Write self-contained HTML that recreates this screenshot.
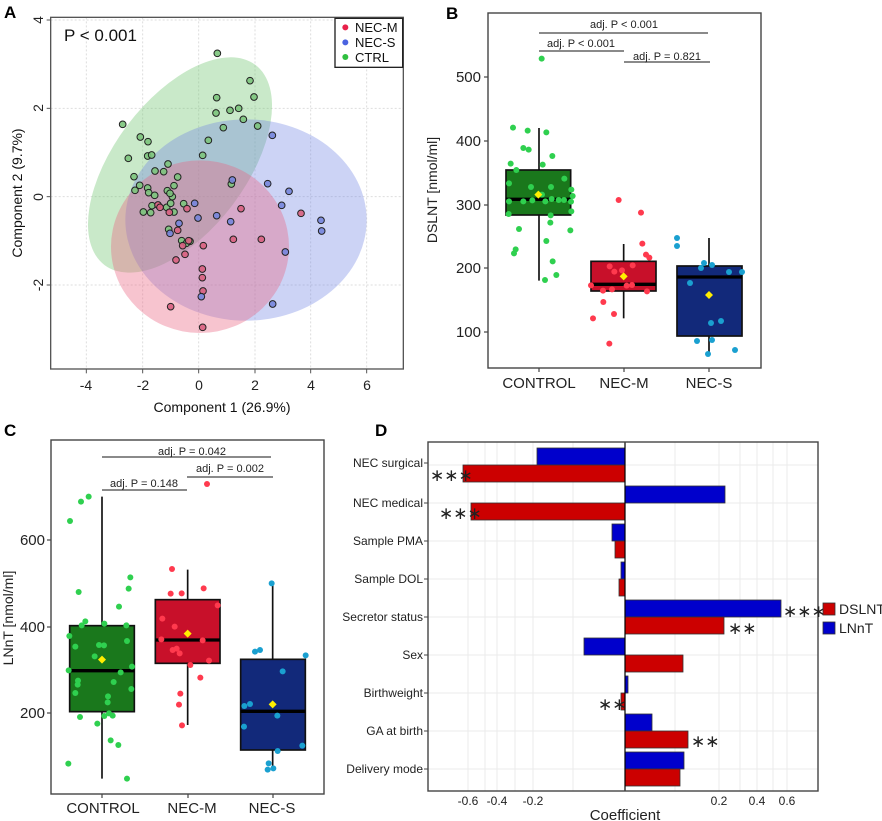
<!DOCTYPE html>
<html><head><meta charset="utf-8"><style>
body{margin:0;background:#fff}
svg{display:block;font-family:"Liberation Sans",Arial,sans-serif}
</style></head><body>
<svg width="882" height="821" viewBox="0 0 882 821" xmlns="http://www.w3.org/2000/svg">
<!-- Panel labels -->
<g font-weight="bold" font-size="17" fill="#000">
<text x="4" y="18">A</text><text x="446" y="19">B</text><text x="4" y="436">C</text><text x="375" y="436">D</text>
</g>

<!-- ================= PANEL A ================= -->
<g transform="scale(0.33333)">
<rect x="152" y="52" width="1058" height="1055" fill="#fff"/>
<g stroke="#ddd" stroke-width="3" stroke-dasharray="6,6">
<line x1="259" y1="52" x2="259" y2="1107"/><line x1="428" y1="52" x2="428" y2="1107"/><line x1="596" y1="52" x2="596" y2="1107"/><line x1="765" y1="52" x2="765" y2="1107"/><line x1="932" y1="52" x2="932" y2="1107"/><line x1="1100" y1="52" x2="1100" y2="1107"/>
<line x1="152" y1="60" x2="1210" y2="60"/><line x1="152" y1="325" x2="1210" y2="325"/><line x1="152" y1="590" x2="1210" y2="590"/><line x1="152" y1="855" x2="1210" y2="855"/>
</g>
<ellipse cx="540" cy="495" rx="376" ry="198" transform="rotate(-53 540 495)" fill="rgb(120,200,120)" fill-opacity="0.4"/>
<ellipse cx="738" cy="660" rx="362" ry="302" fill="rgb(110,130,225)" fill-opacity="0.35"/>
<ellipse cx="600" cy="740" rx="267" ry="259" fill="rgb(235,100,130)" fill-opacity="0.38"/>
<g stroke="#222" stroke-width="3" fill="#7cc47c" fill-opacity="0.9">
<circle cx="652" cy="160" r="10"/><circle cx="750" cy="242" r="10"/><circle cx="762" cy="291" r="10"/><circle cx="650" cy="293" r="10"/><circle cx="648" cy="339" r="10"/><circle cx="690" cy="331" r="10"/><circle cx="716" cy="325" r="10"/><circle cx="730" cy="358" r="10"/><circle cx="773" cy="378" r="10"/><circle cx="670" cy="383" r="10"/><circle cx="625" cy="421" r="10"/><circle cx="608" cy="466" r="10"/><circle cx="368" cy="373" r="10"/><circle cx="421" cy="411" r="10"/><circle cx="444" cy="425" r="10"/><circle cx="385" cy="475" r="10"/><circle cx="443" cy="468" r="10"/><circle cx="455" cy="465" r="10"/><circle cx="504" cy="492" r="10"/><circle cx="491" cy="515" r="10"/><circle cx="465" cy="513" r="10"/><circle cx="533" cy="531" r="10"/><circle cx="402" cy="530" r="10"/><circle cx="419" cy="556" r="10"/><circle cx="443" cy="564" r="10"/><circle cx="405" cy="571" r="10"/><circle cx="446" cy="578" r="10"/><circle cx="464" cy="586" r="10"/><circle cx="522" cy="557" r="10"/><circle cx="502" cy="572" r="10"/><circle cx="517" cy="590" r="10"/><circle cx="510" cy="580" r="10"/><circle cx="694" cy="552" r="10"/><circle cx="430" cy="636" r="10"/><circle cx="452" cy="638" r="10"/><circle cx="456" cy="617" r="10"/><circle cx="500" cy="622" r="10"/><circle cx="522" cy="636" r="10"/><circle cx="512" cy="610" r="10"/><circle cx="506" cy="688" r="10"/><circle cx="545" cy="722" r="10"/><circle cx="559" cy="730" r="10"/><circle cx="551" cy="611" r="10"/><circle cx="570" cy="724" r="10"/>
</g>
<g stroke="#222" stroke-width="3" fill="#d8607f" fill-opacity="0.9">
<circle cx="474" cy="615" r="10"/><circle cx="480" cy="622" r="10"/><circle cx="508" cy="637" r="10"/><circle cx="561" cy="626" r="10"/><circle cx="533" cy="691" r="10"/><circle cx="548" cy="737" r="10"/><circle cx="555" cy="763" r="10"/><circle cx="528" cy="780" r="10"/><circle cx="566" cy="722" r="10"/><circle cx="610" cy="737" r="10"/><circle cx="607" cy="807" r="10"/><circle cx="607" cy="833" r="10"/><circle cx="609" cy="873" r="10"/><circle cx="512" cy="920" r="10"/><circle cx="608" cy="982" r="10"/><circle cx="700" cy="718" r="10"/><circle cx="784" cy="718" r="10"/><circle cx="723" cy="626" r="10"/><circle cx="903" cy="640" r="10"/>
</g>
<g stroke="#222" stroke-width="3" fill="#7585dc" fill-opacity="0.9">
<circle cx="817" cy="406" r="10"/><circle cx="697" cy="540" r="10"/><circle cx="803" cy="551" r="10"/><circle cx="867" cy="574" r="10"/><circle cx="845" cy="616" r="10"/><circle cx="584" cy="610" r="10"/><circle cx="594" cy="654" r="10"/><circle cx="537" cy="670" r="10"/><circle cx="510" cy="700" r="10"/><circle cx="650" cy="647" r="10"/><circle cx="692" cy="665" r="10"/><circle cx="963" cy="661" r="10"/><circle cx="965" cy="693" r="10"/><circle cx="856" cy="756" r="10"/><circle cx="604" cy="890" r="10"/><circle cx="818" cy="912" r="10"/>
</g>
<rect x="152" y="52" width="1058" height="1055" fill="none" stroke="#555" stroke-width="4"/>
<g stroke="#555" stroke-width="3">
<line x1="259" y1="1107" x2="259" y2="1120"/><line x1="428" y1="1107" x2="428" y2="1120"/><line x1="596" y1="1107" x2="596" y2="1120"/><line x1="765" y1="1107" x2="765" y2="1120"/><line x1="932" y1="1107" x2="932" y2="1120"/><line x1="1100" y1="1107" x2="1100" y2="1120"/>
<line x1="140" y1="60" x2="152" y2="60"/><line x1="140" y1="325" x2="152" y2="325"/><line x1="140" y1="590" x2="152" y2="590"/><line x1="140" y1="855" x2="152" y2="855"/>
</g>
<rect x="1005" y="55" width="203" height="147" fill="#fff" stroke="#222" stroke-width="4"/>
<circle cx="1036" cy="82" r="9" fill="#e8214a"/><circle cx="1036" cy="127" r="9" fill="#4a63e0"/><circle cx="1036" cy="171" r="9" fill="#2fbf3f"/>
</g>
<g font-size="13" fill="#111">
<text x="355" y="32">NEC-M</text><text x="355" y="47">NEC-S</text><text x="355" y="62">CTRL</text>
</g>
<text x="64" y="41" font-size="17" fill="#111">P &lt; 0.001</text>
<g font-size="14" fill="#222" text-anchor="middle">
<text x="86" y="390">-4</text><text x="143" y="390">-2</text><text x="199" y="390">0</text><text x="255" y="390">2</text><text x="311" y="390">4</text><text x="367" y="390">6</text>
<text transform="translate(43,20) rotate(-90)">4</text>
<text transform="translate(43,108) rotate(-90)">2</text>
<text transform="translate(43,197) rotate(-90)">0</text>
<text transform="translate(43,285) rotate(-90)">-2</text>
</g>
<text x="222" y="412" font-size="14" text-anchor="middle" fill="#111">Component 1 (26.9%)</text>
<text transform="translate(22,193) rotate(-90)" font-size="14" text-anchor="middle" fill="#111">Component 2 (9.7%)</text>

<!-- ================= PANEL B ================= -->
<g transform="translate(420,0) scale(0.33333)">
<g stroke="#111" stroke-width="5">
<line x1="357" y1="384" x2="357" y2="842"/>
<line x1="611" y1="732" x2="611" y2="955"/>
</g>
<rect x="258" y="510" width="194" height="135" fill="#1a781c" stroke="#111" stroke-width="5"/>
<line x1="258" y1="598" x2="452" y2="598" stroke="#000" stroke-width="10"/>
<rect x="513" y="784" width="195" height="89" fill="#c8102a" stroke="#111" stroke-width="5"/>
<line x1="513" y1="853" x2="708" y2="853" stroke="#000" stroke-width="10"/>
<g fill="#2fd04f">
<circle cx="365" cy="176" r="9"/><circle cx="279" cy="383" r="9"/><circle cx="323" cy="392" r="9"/><circle cx="379" cy="397" r="9"/><circle cx="310" cy="444" r="9"/><circle cx="326" cy="449" r="9"/><circle cx="397" cy="468" r="9"/><circle cx="272" cy="491" r="9"/><circle cx="368" cy="494" r="9"/><circle cx="289" cy="510" r="9"/><circle cx="267" cy="550" r="9"/><circle cx="333" cy="561" r="9"/><circle cx="393" cy="561" r="9"/><circle cx="433" cy="536" r="9"/><circle cx="454" cy="569" r="9"/><circle cx="366" cy="584" r="9"/><circle cx="267" cy="604" r="9"/><circle cx="310" cy="604" r="9"/><circle cx="337" cy="601" r="9"/><circle cx="376" cy="604" r="9"/><circle cx="395" cy="597" r="9"/><circle cx="416" cy="600" r="9"/><circle cx="432" cy="600" r="9"/><circle cx="453" cy="605" r="9"/><circle cx="458" cy="588" r="9"/><circle cx="454" cy="634" r="9"/><circle cx="266" cy="642" r="9"/><circle cx="392" cy="646" r="9"/><circle cx="391" cy="668" r="9"/><circle cx="297" cy="687" r="9"/><circle cx="451" cy="691" r="9"/><circle cx="379" cy="723" r="9"/><circle cx="287" cy="748" r="9"/><circle cx="282" cy="760" r="9"/><circle cx="398" cy="784" r="9"/><circle cx="409" cy="825" r="9"/><circle cx="375" cy="840" r="9"/>
</g>
<g fill="#ff3a4e">
<circle cx="596" cy="600" r="9"/><circle cx="663" cy="638" r="9"/><circle cx="667" cy="731" r="9"/><circle cx="678" cy="764" r="9"/><circle cx="688" cy="773" r="9"/><circle cx="569" cy="799" r="9"/><circle cx="606" cy="811" r="9"/><circle cx="638" cy="796" r="9"/><circle cx="583" cy="815" r="9"/><circle cx="513" cy="856" r="9"/><circle cx="549" cy="872" r="9"/><circle cx="576" cy="868" r="9"/><circle cx="620" cy="857" r="9"/><circle cx="636" cy="855" r="9"/><circle cx="681" cy="874" r="9"/><circle cx="550" cy="906" r="9"/><circle cx="582" cy="942" r="9"/><circle cx="519" cy="955" r="9"/><circle cx="568" cy="1031" r="9"/>
</g>
<polygon points="355,572 367,584 355,596 343,584" fill="#ffee00"/>
<polygon points="611,817 623,829 611,841 599,829" fill="#ffee00"/>
</g>
<line x1="709" y1="238" x2="709" y2="354" stroke="#111" stroke-width="1.7"/>
<rect x="677" y="266" width="65" height="70" fill="#12297a" stroke="#111" stroke-width="1.7"/>
<line x1="677" y1="277" x2="742" y2="277" stroke="#000" stroke-width="3.3"/>
<g fill="#1aa0d0">
<circle cx="677" cy="238" r="3"/><circle cx="677" cy="246" r="3"/><circle cx="704" cy="263" r="3"/><circle cx="701" cy="268" r="3"/><circle cx="712" cy="265" r="3"/><circle cx="729" cy="272" r="3"/><circle cx="742" cy="272" r="3"/><circle cx="690" cy="283" r="3"/><circle cx="711" cy="323" r="3"/><circle cx="721" cy="321" r="3"/><circle cx="697" cy="341" r="3"/><circle cx="712" cy="340" r="3"/><circle cx="708" cy="354" r="3"/><circle cx="735" cy="350" r="3"/>
</g>
<polygon points="709,291 713,295 709,299 705,295" fill="#ffee00"/>
<rect x="488" y="13" width="273" height="355" fill="none" stroke="#444" stroke-width="1.4"/>
<g stroke="#444" stroke-width="1.2">
<line x1="484" y1="77" x2="488" y2="77"/><line x1="484" y1="141" x2="488" y2="141"/><line x1="484" y1="205" x2="488" y2="205"/><line x1="484" y1="268" x2="488" y2="268"/><line x1="484" y1="332" x2="488" y2="332"/>
<line x1="539" y1="368" x2="539" y2="372"/><line x1="624" y1="368" x2="624" y2="372"/><line x1="709" y1="368" x2="709" y2="372"/>
<line x1="539" y1="33" x2="708" y2="33"/><line x1="539" y1="51" x2="624" y2="51"/><line x1="624" y1="62" x2="710" y2="62"/>
</g>
<g font-size="11" fill="#222" text-anchor="middle">
<text x="624" y="28">adj. P &lt; 0.001</text><text x="581" y="47">adj. P &lt; 0.001</text><text x="667" y="60">adj. P = 0.821</text>
</g>
<g font-size="15" fill="#222" text-anchor="end">
<text x="481" y="82">500</text><text x="481" y="146">400</text><text x="481" y="210">300</text><text x="481" y="273">200</text><text x="481" y="337">100</text>
</g>
<g font-size="15" fill="#222" text-anchor="middle">
<text x="539" y="388">CONTROL</text><text x="624" y="388">NEC-M</text><text x="709" y="388">NEC-S</text>
</g>
<text transform="translate(437,190) rotate(-90)" font-size="14" text-anchor="middle" fill="#222">DSLNT [nmol/ml]</text>

<!-- ================= PANEL C ================= -->
<g transform="translate(0,400) scale(0.33333)">
<g stroke="#111" stroke-width="5">
<line x1="306" y1="290" x2="306" y2="1136"/>
<line x1="563" y1="509" x2="563" y2="975"/>
<line x1="818" y1="549" x2="818" y2="1100"/>
</g>
<rect x="209" y="677" width="194" height="258" fill="#1a781c" stroke="#111" stroke-width="5"/>
<line x1="209" y1="812" x2="403" y2="812" stroke="#000" stroke-width="10"/>
<rect x="466" y="599" width="194" height="191" fill="#c8102a" stroke="#111" stroke-width="5"/>
<line x1="466" y1="720" x2="660" y2="720" stroke="#000" stroke-width="10"/>
<rect x="722" y="778" width="194" height="272" fill="#12297a" stroke="#111" stroke-width="5"/>
<line x1="722" y1="934" x2="916" y2="934" stroke="#000" stroke-width="10"/>
<g fill="#2fd04f">
<circle cx="266" cy="290" r="9"/><circle cx="243" cy="305" r="9"/><circle cx="210" cy="363" r="9"/><circle cx="236" cy="576" r="9"/><circle cx="391" cy="532" r="9"/><circle cx="386" cy="566" r="9"/><circle cx="357" cy="620" r="9"/><circle cx="256" cy="664" r="9"/><circle cx="245" cy="676" r="9"/><circle cx="313" cy="671" r="9"/><circle cx="379" cy="676" r="9"/><circle cx="208" cy="708" r="9"/><circle cx="226" cy="740" r="9"/><circle cx="297" cy="735" r="9"/><circle cx="312" cy="736" r="9"/><circle cx="381" cy="723" r="9"/><circle cx="284" cy="769" r="9"/><circle cx="396" cy="800" r="9"/><circle cx="206" cy="811" r="9"/><circle cx="362" cy="817" r="9"/><circle cx="234" cy="842" r="9"/><circle cx="233" cy="854" r="9"/><circle cx="341" cy="846" r="9"/><circle cx="226" cy="879" r="9"/><circle cx="324" cy="889" r="9"/><circle cx="323" cy="907" r="9"/><circle cx="394" cy="867" r="9"/><circle cx="327" cy="940" r="9"/><circle cx="313" cy="948" r="9"/><circle cx="338" cy="947" r="9"/><circle cx="240" cy="951" r="9"/><circle cx="292" cy="971" r="9"/><circle cx="332" cy="1021" r="9"/><circle cx="355" cy="1035" r="9"/><circle cx="205" cy="1091" r="9"/><circle cx="381" cy="1136" r="9"/>
</g>
<g fill="#ff3a4e">
<circle cx="621" cy="252" r="9"/><circle cx="516" cy="507" r="9"/><circle cx="512" cy="581" r="9"/><circle cx="545" cy="580" r="9"/><circle cx="611" cy="565" r="9"/><circle cx="653" cy="616" r="9"/><circle cx="487" cy="656" r="9"/><circle cx="524" cy="680" r="9"/><circle cx="484" cy="718" r="9"/><circle cx="608" cy="721" r="9"/><circle cx="518" cy="750" r="9"/><circle cx="530" cy="746" r="9"/><circle cx="539" cy="760" r="9"/><circle cx="571" cy="795" r="9"/><circle cx="627" cy="782" r="9"/><circle cx="601" cy="833" r="9"/><circle cx="541" cy="881" r="9"/><circle cx="537" cy="914" r="9"/><circle cx="546" cy="976" r="9"/>
</g>
<g fill="#1aa0d0">
<circle cx="815" cy="550" r="9"/><circle cx="765" cy="755" r="9"/><circle cx="780" cy="750" r="9"/><circle cx="917" cy="766" r="9"/><circle cx="848" cy="814" r="9"/><circle cx="733" cy="918" r="9"/><circle cx="750" cy="912" r="9"/><circle cx="832" cy="947" r="9"/><circle cx="732" cy="980" r="9"/><circle cx="907" cy="1037" r="9"/><circle cx="833" cy="1053" r="9"/><circle cx="806" cy="1090" r="9"/><circle cx="803" cy="1109" r="9"/><circle cx="820" cy="1105" r="9"/>
</g>
<polygon points="306,767 318,779 306,791 294,779" fill="#ffee00"/>
<polygon points="563,689 575,701 563,713 551,701" fill="#ffee00"/>
<polygon points="818,901 830,913 818,925 806,913" fill="#ffee00"/>
</g>
<rect x="51" y="440" width="273" height="354" fill="none" stroke="#444" stroke-width="1.4"/>
<g stroke="#444" stroke-width="1.2">
<line x1="47" y1="540" x2="51" y2="540"/><line x1="47" y1="627" x2="51" y2="627"/><line x1="47" y1="713" x2="51" y2="713"/>
<line x1="102" y1="794" x2="102" y2="798"/><line x1="188" y1="794" x2="188" y2="798"/><line x1="273" y1="794" x2="273" y2="798"/>
<line x1="102" y1="457" x2="271" y2="457"/><line x1="187" y1="477" x2="273" y2="477"/><line x1="102" y1="490" x2="187" y2="490"/>
</g>
<g font-size="11" fill="#222" text-anchor="middle">
<text x="192" y="455">adj. P = 0.042</text><text x="230" y="472">adj. P = 0.002</text><text x="144" y="487">adj. P = 0.148</text>
</g>
<g font-size="15" fill="#222" text-anchor="end">
<text x="45" y="545">600</text><text x="45" y="632">400</text><text x="45" y="718">200</text>
</g>
<g font-size="15" fill="#222" text-anchor="middle">
<text x="103" y="813">CONTROL</text><text x="192" y="813">NEC-M</text><text x="272" y="813">NEC-S</text>
</g>
<text transform="translate(13,618) rotate(-90)" font-size="14" text-anchor="middle" fill="#222">LNnT [nmol/ml]</text>

<!-- ================= PANEL D ================= -->
<g stroke="#ebebeb" stroke-width="1">
<line x1="468" y1="442" x2="468" y2="791"/><line x1="497" y1="442" x2="497" y2="791"/><line x1="533" y1="442" x2="533" y2="791"/><line x1="719" y1="442" x2="719" y2="791"/><line x1="757" y1="442" x2="757" y2="791"/><line x1="787" y1="442" x2="787" y2="791"/>
<line x1="485" y1="442" x2="485" y2="791"/><line x1="515" y1="442" x2="515" y2="791"/><line x1="573" y1="442" x2="573" y2="791"/><line x1="675" y1="442" x2="675" y2="791"/><line x1="740" y1="442" x2="740" y2="791"/><line x1="773" y1="442" x2="773" y2="791"/>
<line x1="428" y1="465" x2="818" y2="465"/><line x1="428" y1="503" x2="818" y2="503"/><line x1="428" y1="541" x2="818" y2="541"/><line x1="428" y1="579" x2="818" y2="579"/><line x1="428" y1="617" x2="818" y2="617"/><line x1="428" y1="655" x2="818" y2="655"/><line x1="428" y1="693" x2="818" y2="693"/><line x1="428" y1="731" x2="818" y2="731"/><line x1="428" y1="769" x2="818" y2="769"/>
</g>
<g stroke="#333" stroke-width="0.8">
<rect x="537" y="448" width="88" height="17" fill="#0000cc"/><rect x="463" y="465" width="162" height="17" fill="#cc0000"/>
<rect x="625" y="486" width="100" height="17" fill="#0000cc"/><rect x="471" y="503" width="154" height="17" fill="#cc0000"/>
<rect x="612" y="524" width="13" height="17" fill="#0000cc"/><rect x="615" y="541" width="10" height="17" fill="#cc0000"/>
<rect x="621" y="562" width="4" height="17" fill="#0000cc"/><rect x="619" y="579" width="6" height="17" fill="#cc0000"/>
<rect x="625" y="600" width="156" height="17" fill="#0000cc"/><rect x="625" y="617" width="99" height="17" fill="#cc0000"/>
<rect x="584" y="638" width="41" height="17" fill="#0000cc"/><rect x="625" y="655" width="58" height="17" fill="#cc0000"/>
<rect x="625" y="676" width="3" height="17" fill="#0000cc"/><rect x="621" y="693" width="4" height="17" fill="#cc0000"/>
<rect x="625" y="714" width="27" height="17" fill="#0000cc"/><rect x="625" y="731" width="63" height="17" fill="#cc0000"/>
<rect x="625" y="752" width="59" height="17" fill="#0000cc"/><rect x="625" y="769" width="55" height="17" fill="#cc0000"/>
</g>
<line x1="625" y1="442" x2="625" y2="791" stroke="#000" stroke-width="1.2"/>
<rect x="428" y="442" width="390" height="349" fill="none" stroke="#444" stroke-width="1.4"/>
<g font-size="17" fill="#222">
<text x="430" y="481">∗∗∗</text><text x="439" y="519">∗∗∗</text><text x="783" y="617">∗∗∗</text><text x="728" y="634">∗∗</text><text x="598" y="710">∗∗</text><text x="691" y="747">∗∗</text>
</g>
<g font-size="12" fill="#222" text-anchor="end">
<text x="423" y="467">NEC surgical</text><text x="423" y="507">NEC medical</text><text x="423" y="545">Sample PMA</text><text x="423" y="583">Sample DOL</text><text x="423" y="621">Secretor status</text><text x="423" y="659">Sex</text><text x="423" y="697">Birthweight</text><text x="423" y="735">GA at birth</text><text x="423" y="773">Delivery mode</text>
</g>
<g stroke="#444" stroke-width="1">
<line x1="424" y1="463" x2="428" y2="463"/><line x1="424" y1="503" x2="428" y2="503"/><line x1="424" y1="541" x2="428" y2="541"/><line x1="424" y1="579" x2="428" y2="579"/><line x1="424" y1="617" x2="428" y2="617"/><line x1="424" y1="655" x2="428" y2="655"/><line x1="424" y1="693" x2="428" y2="693"/><line x1="424" y1="731" x2="428" y2="731"/><line x1="424" y1="769" x2="428" y2="769"/>
</g>
<g font-size="12" fill="#222" text-anchor="middle">
<text x="468" y="805">-0.6</text><text x="497" y="805">-0.4</text><text x="533" y="805">-0.2</text><text x="719" y="805">0.2</text><text x="757" y="805">0.4</text><text x="787" y="805">0.6</text>
</g>
<text x="625" y="820" font-size="15" text-anchor="middle" fill="#222">Coefficient</text>
<rect x="823" y="603" width="12" height="12" fill="#cc0000" stroke="#333" stroke-width="0.8"/>
<rect x="823" y="622" width="12" height="12" fill="#0000cc" stroke="#333" stroke-width="0.8"/>
<g font-size="14" fill="#222"><text x="839" y="614">DSLNT</text><text x="839" y="633">LNnT</text></g>
</svg>
</body></html>
